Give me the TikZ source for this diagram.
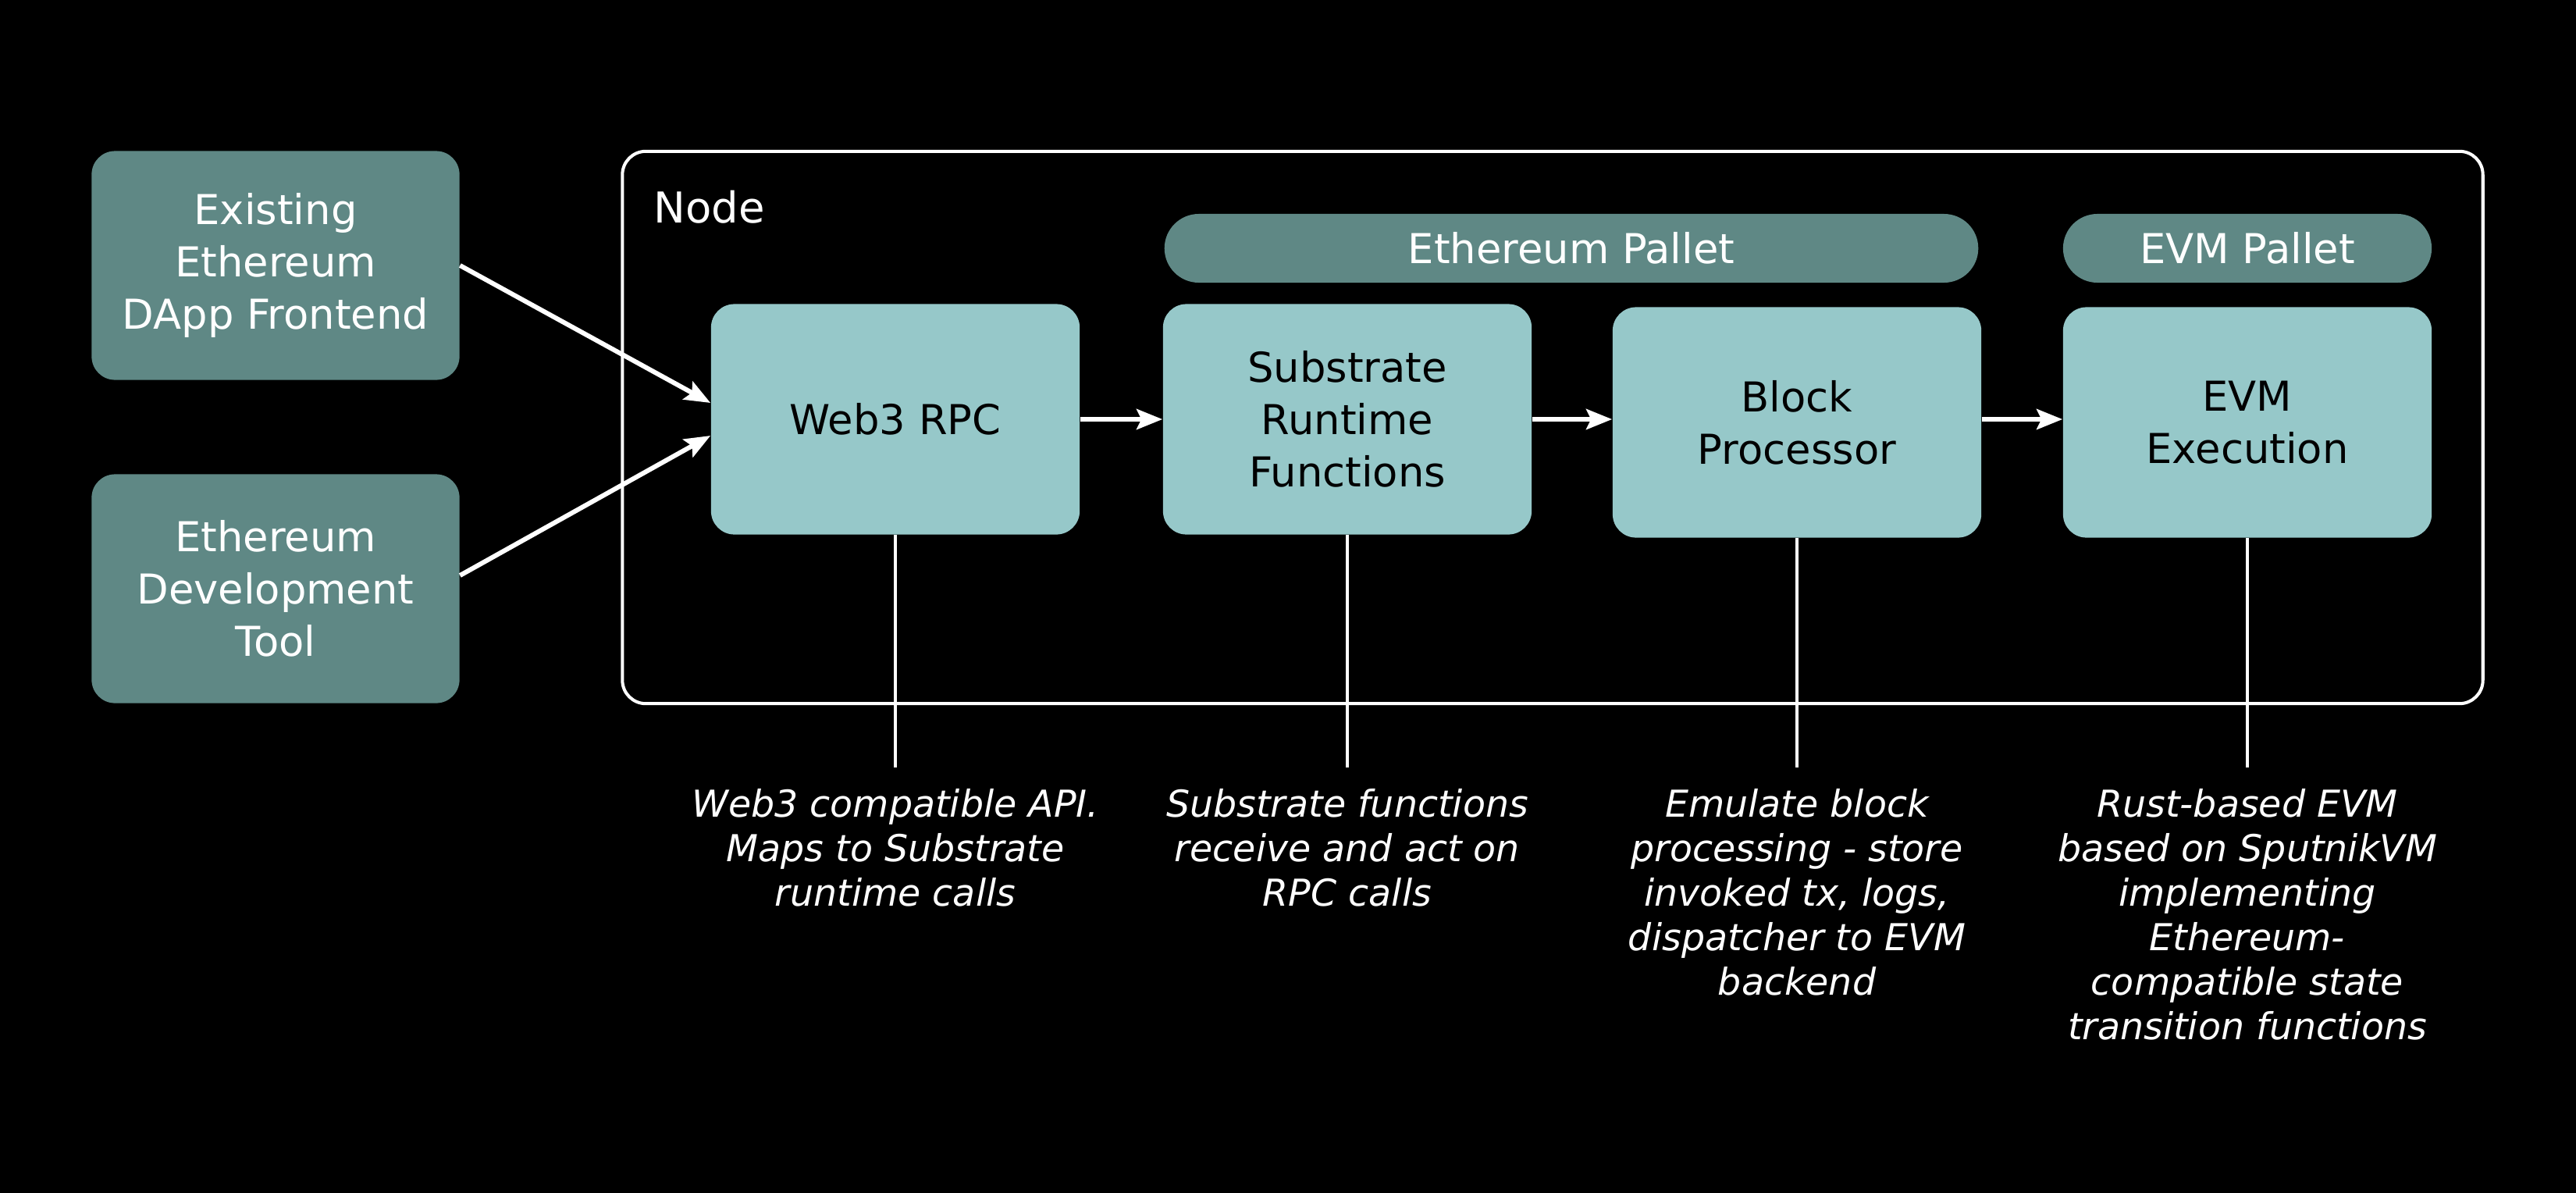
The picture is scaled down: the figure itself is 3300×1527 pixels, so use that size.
\documentclass[tikz,border=0pt]{standalone}
\usepackage{fontspec}
\setmainfont{DejaVu Sans}
\usetikzlibrary{arrows.meta}
\definecolor{darkteal}{HTML}{5F8885}
\definecolor{lightteal}{HTML}{96C8C9}
\begin{document}
\begin{tikzpicture}[x=0.01cm,y=-0.01cm,inner sep=0,
		client/.style={fill=darkteal,text=white,rounded corners=0.3cm,minimum width=4.71cm,minimum height=2.93cm,align=center,font=\fontsize{15}{19}\selectfont},
		block/.style={fill=lightteal,text=black,rounded corners=0.3cm,minimum width=4.72cm,minimum height=2.95cm,align=center,font=\fontsize{15}{19}\selectfont},
		pallet/.style={fill=darkteal,text=white,rounded corners=0.44cm,minimum height=0.88cm,font=\fontsize{15}{19}\selectfont},
		container/.style={draw=white,line width=1.15pt,rounded corners=0.3cm,minimum width=23.82cm,minimum height=7.07cm},
		note/.style={text=white,align=center,anchor=north,font=\fontsize{13.5}{16.2}\selectfont\itshape},
		flow/.style={white,line width=1.7pt,-{Stealth[length=0.33cm,width=0.26cm,inset=0.06cm]}},
		stem/.style={white,line width=1.2pt}]
		\useasboundingbox (0,0) rectangle (3300,1527);
		\fill[black] (-20,-20) rectangle (3320,1547);
		% outer node frame
		\node[container] (node) at (1989,547.5) {};
		\node[text=white,anchor=base west,font=\fontsize{15.5}{19}\selectfont] (nodelabel) at (837,285) {Node};
		% clients
		\node[client] (dapp) at (353,340) {Existing\\Ethereum\\DApp Frontend};
		\node[client] (tool) at (353,754) {Ethereum\\Development\\Tool};
		% pallets
		\node[pallet,minimum width=10.42cm] (ethpallet) at (2013,318) {Ethereum Pallet};
		\node[pallet,minimum width=4.72cm] (evmpallet) at (2879,318) {EVM Pallet};
		% blocks
		\node[block] (web3) at (1147,537) {Web3 RPC};
		\node[block] (subs) at (1726,537) {Substrate\\Runtime\\Functions};
		\node[block] (proc) at (2302,541) {Block\\Processor};
		\node[block] (evm) at (2879,541) {EVM\\Execution};
		\draw[flow] (dapp.east) -- ([yshift=0.21cm]web3.west);
		\draw[flow] ([yshift=0.17cm]tool.east) -- ([yshift=-0.21cm]web3.west);
		\draw[flow] (web3.east) -- (web3.east -| subs.west);
		\draw[flow] (subs.east) -- (subs.east -| proc.west);
		\draw[flow] (proc.east |- subs.east) -- (subs.east -| evm.west);
		% notes
		\coordinate (web3end) at (1147,983);
		\coordinate (subsend) at (1726,983);
		\coordinate (procend) at (2302,983);
		\coordinate (evmend) at (2879,983);
		\draw[stem] (web3.south) -- (web3end);
		\draw[stem] (subs.south) -- (subsend);
		\draw[stem] (proc.south) -- (procend);
		\draw[stem] (evm.south) -- (evmend);
		\node[note] (web3note) at (1147,1010) {Web3 compatible API.\\Maps to Substrate\\runtime calls};
		\node[note] (subsnote) at (1726,1010) {Substrate functions\\receive and act on\\RPC calls};
		\node[note] (procnote) at (2302,1010) {Emulate block\\processing - store\\invoked tx, logs,\\dispatcher to EVM\\backend};
		\node[note] (evmnote) at (2879,1010) {Rust-based EVM\\based on SputnikVM\\implementing\\Ethereum-\\compatible state\\transition functions};
\end{tikzpicture}
\end{document}
